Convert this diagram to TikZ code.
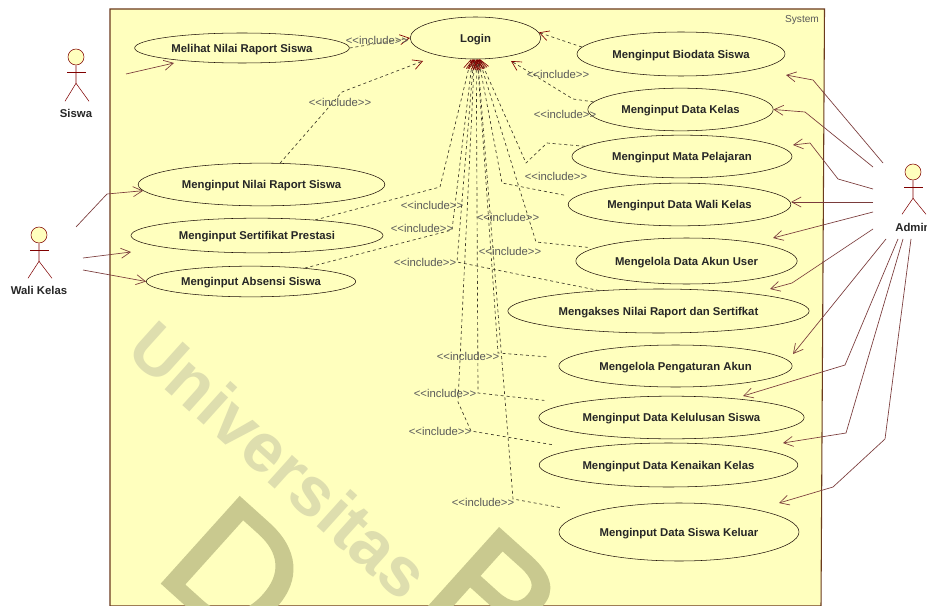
\documentclass[tikz,border=0pt]{standalone}
\usepackage{fontspec}
\setmainfont{Liberation Sans}
\newfontfamily\stampfont[FakeBold=2]{Liberation Sans}
\usetikzlibrary{arrows.meta,positioning,shapes.geometric}
\definecolor{boxfill}{HTML}{FFFFBE}
\definecolor{boxline}{HTML}{6B3A1E}
\definecolor{assocline}{HTML}{7A3B3B}
\definecolor{dashline}{HTML}{3F3B2A}
\definecolor{tiplines}{HTML}{800000}
\definecolor{stampname}{HTML}{DEDEAE}
\definecolor{stampletter}{HTML}{C9C98F}
\tikzset{
    usecase/.style={draw=black!70!boxline, fill=boxfill, ellipse, inner sep=0pt, text depth=0pt, font=\bfseries\fontsize{8.5}{10}\selectfont, text=black!85},
    actorhead/.style={draw=tiplines, fill=boxfill, circle, minimum size=12pt, inner sep=0pt},
    actorline/.style={draw=tiplines, line width=0.4pt},
    actorname/.style={font=\bfseries\fontsize{8.5}{10}\selectfont, text=black!85},
    assoc/.style={draw=assocline, line width=0.5pt, -{Straight Barb[length=7pt,width=7.5pt,color=assocline]}},
    incl/.style={draw=dashline, line width=0.5pt, dash pattern=on 2.2pt off 2.2pt, -{Straight Barb[length=7pt,width=7.5pt,color=tiplines]}},
    incllabel/.style={font=\fontsize{8.5}{10}\selectfont, text=black!65, inner sep=0pt}
}
\begin{document}
\begin{tikzpicture}[x=0.75pt,y=-0.75pt]
    \useasboundingbox (0,0) rectangle (927,606);
    \clip (0,0) rectangle (927,606);
    \fill[white] (0,0) rectangle (927,606);

    \draw[draw=boxline, fill=boxfill, line width=0.8pt] (110,9) -- (824.5,9) -- (821,606) -- (110,606) -- cycle;
    \node[font=\fontsize{7.6}{9}\selectfont, text=black!65, inner sep=0pt] (system) at (802,20) {System};

    % watermark
    \node[font=\bfseries\fontsize{52}{52}\selectfont, text=stampname, rotate=-42, inner sep=0pt] (stampuniv) at (280,460) {Universitas};
    \node[font=\stampfont\fontsize{125}{125}\selectfont, text=stampletter, rotate=-42, inner sep=0pt] (stampd) at (236,572) {D};
    \node[font=\stampfont\fontsize{125}{125}\selectfont, text=stampletter, rotate=-42, inner sep=0pt] (stampb) at (492,600) {B};

    % use cases
    \node[usecase, minimum width=161pt, minimum height=22.5pt] (melihat) at (242,48) {Melihat Nilai Raport Siswa};
    \node[usecase, minimum width=98pt, minimum height=31.5pt] (login) at (475.5,38) {Login};
    \node[usecase, minimum width=185pt, minimum height=32pt] (nilai) at (261.5,184.5) {Menginput Nilai Raport Siswa};
    \node[usecase, minimum width=189pt, minimum height=26pt] (sertifikat) at (257,235.5) {Menginput Sertifikat Prestasi};
    \node[usecase, minimum width=157pt, minimum height=23pt] (absensi) at (251,281.5) {Menginput Absensi Siswa};
    \node[usecase, minimum width=156pt, minimum height=33pt] (biodata) at (681,54) {Menginput Biodata Siswa};
    \node[usecase, minimum width=139pt, minimum height=32pt] (datakelas) at (680.5,109.5) {Menginput Data Kelas};
    \node[usecase, minimum width=165pt, minimum height=32pt] (mapel) at (682,156.5) {Menginput Mata Pelajaran};
    \node[usecase, minimum width=167pt, minimum height=32pt] (walikelas) at (679.5,204.5) {Menginput Data Wali Kelas};
    \node[usecase, minimum width=166pt, minimum height=34.5pt] (akunuser) at (686.5,261) {Mengelola Data Akun User};
    \node[usecase, minimum width=226pt, minimum height=33pt] (mengakses) at (658.5,311) {Mengakses Nilai Raport dan Sertifkat};
    \node[usecase, minimum width=175pt, minimum height=31.5pt] (pengaturan) at (675.5,366) {Mengelola Pengaturan Akun};
    \node[usecase, minimum width=199pt, minimum height=32pt] (kelulusan) at (671.5,417.5) {Menginput Data Kelulusan Siswa};
    \node[usecase, minimum width=194pt, minimum height=33pt] (kenaikan) at (668.5,465) {Menginput Data Kenaikan Kelas};
    \node[usecase, minimum width=180pt, minimum height=43.5pt] (keluar) at (679,532) {Menginput Data Siswa Keluar};

    % actors
    \node[actorhead] (siswa) at (76,57) {};
    \draw[actorline] (siswa.south) -- ++(0,18) -- ++(-11,18);
    \draw[actorline] (siswa.south) ++(0,18) -- ++(13,18);
    \draw[actorline] (67,72) -- (86,72);
    \node[actorname] (siswaname) at (76,113) {Siswa};

    \node[actorhead] (wali) at (39,235) {};
    \draw[actorline] (wali.south) -- ++(0,18) -- ++(-11,17);
    \draw[actorline] (wali.south) ++(0,18) -- ++(13,17);
    \draw[actorline] (30,250) -- (49,250);
    \node[actorname] (waliname) at (39,290) {Wali Kelas};

    \node[actorhead] (admin) at (913,172) {};
    \draw[actorline] (admin.south) -- ++(0,18) -- ++(-11,16);
    \draw[actorline] (admin.south) ++(0,18) -- ++(13,16);
    \draw[actorline] (904,187) -- (923,187);
    \node[actorname] (adminname) at (913,227) {Admin};

    % associations, actor to use case
    \coordinate (siswaout) at (126,74);
    \coordinate (siswatip) at (174,63);
    \draw[assoc] (siswaout) -- (siswatip);

    \coordinate (walioutA) at (76,227);
    \coordinate (walioutB) at (83,258);
    \coordinate (walioutC) at (83,270);
    \coordinate (walitipB) at (131,252);
    \draw[assoc] (walioutA) -- (107,194) -- (nilai.183);
    \draw[assoc] (walioutB) -- (walitipB);
    \draw[assoc] (walioutC) -- (absensi.west);

    \coordinate (adminA) at (883,163);
    \coordinate (adminB) at (873,167);
    \coordinate (adminC) at (873,189);
    \coordinate (adminD) at (873,202);
    \coordinate (adminE) at (873,212);
    \coordinate (adminF) at (873,229);
    \coordinate (adminG) at (886,239);
    \coordinate (adminH) at (898,239);
    \coordinate (adminI) at (903,239);
    \coordinate (adminJ) at (911,239);
    \coordinate (tipbiodata) at (786,75);
    \coordinate (tipmapel) at (793,145);
    \coordinate (tipakunuser) at (773,238);
    \coordinate (tipmengakses) at (770,289);
    \coordinate (tippengaturan) at (793,354);
    \coordinate (tipkelulusan) at (743,396);
    \coordinate (tipkenaikan) at (783,443);
    \coordinate (tipkeluar) at (779,503);
    \draw[assoc] (adminA) -- (813,80) -- (tipbiodata);
    \draw[assoc] (adminB) -- (805,112) -- (datakelas.east);
    \draw[assoc] (adminC) -- (838,179) -- (810,143) -- (tipmapel);
    \draw[assoc] (adminD) -- (walikelas.east |- adminD);
    \draw[assoc] (adminE) -- (tipakunuser);
    \draw[assoc] (adminF) -- (792,283) -- (tipmengakses);
    \draw[assoc] (adminG) -- (tippengaturan);
    \draw[assoc] (adminH) -- (845,365) -- (tipkelulusan);
    \draw[assoc] (adminI) -- (846,433) -- (tipkenaikan);
    \draw[assoc] (adminJ) -- (885,439) -- (833,487) -- (tipkeluar);

    % include, use case to login
    \coordinate (tipnilai) at (423,61);
    \coordinate (tipkelas) at (511,61);
    \draw[incl] (melihat.east) -- (login.west);
    \draw[incl] (nilai.49) -- (342,92) -- (tipnilai);
    \draw[incl] (biodata.176) -- (login.5);
    \draw[incl] (datakelas.175) -- (573,99) -- (tipkelas);
    \draw[incl] (mapel.174.5) -- (547,143) -- (526,163) -- (login.-78);
    \draw[incl, shorten <=8pt] (walikelas.176) -- (502,183) -- (login.-82);
    \draw[incl, shorten <=5pt] (akunuser.172.6) -- (536,242) -- (login.-80);
    \draw[incl] (sertifikat.15) -- (440,187) -- (login.-102);
    \draw[incl] (absensi.14) -- (452,230) -- (login.-98);
    \draw[incl] (mengakses.161) -- (457,262) -- (login.-95);
    \draw[incl, shorten <=15pt] (pengaturan.176) -- (498,353) -- (login.-85);
    \draw[incl, shorten <=20pt] (kelulusan.172.4) -- (478,393) -- (login.-88);
    \draw[incl, shorten <=20pt] (kenaikan.170.7) -- (471,431) -- (458,402) -- (login.-93);
    \draw[incl, shorten <=22pt] (keluar.168.5) -- (513,499) -- (login.-84);

    % labels
    \foreach \labelname/\labelx/\labely in {lmelihat/377/40, lnilai/340/102, lkelas/558/74, lmapelA/565/114, lmapelB/556/176, lsertifikat/432/205, labsensi/422/228, lmengakses/425/262, lwali/508/217, lakun/510/251, lpengaturan/468/356, lkelulusan/445/393, lkenaikan/440/431, lkeluar/483/502}
        \node[incllabel] (\labelname) at (\labelx,\labely) {<{}<include>{}>};
\end{tikzpicture}
\end{document}
